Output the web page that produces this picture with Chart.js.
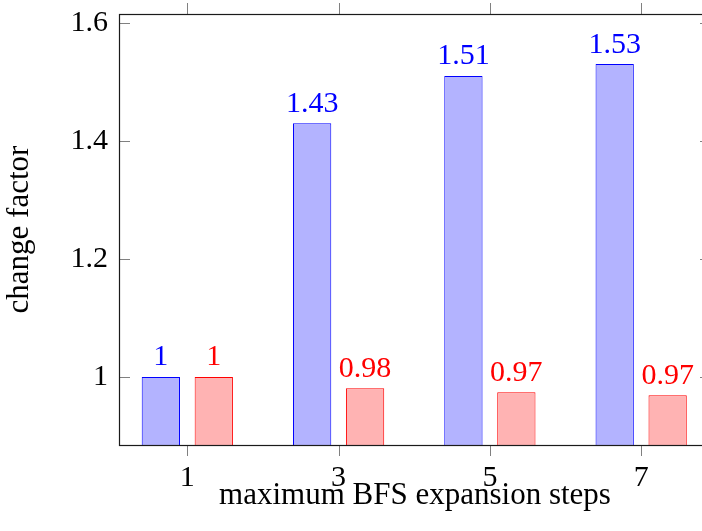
<!DOCTYPE html>
<html>
<head>
<meta charset="utf-8">
<script src="https://cdn.jsdelivr.net/npm/chart.js@4/dist/chart.umd.min.js"></script>
<style>
  html, body { margin: 0; padding: 0; background: #fff; overflow: hidden; width: 702px; height: 531px; }
  #c { display: block; }
</style>
</head>
<body>
<canvas id="c" width="720" height="531"></canvas>
<script>
// ---- data ----
const steps = [1, 3, 5, 7];
const series1Values = [1, 1.43, 1.51, 1.53];      // blue bars
const series2Values = [1, 0.981, 0.974, 0.969];   // red bars
const xTickValues = [1, 3, 5, 7];
const yTickValues = [1, 1.2, 1.4, 1.6];
const xTitle = 'maximum BFS expansion steps';
const yTitle = 'change factor';

const FONT = '"Liberation Serif", "Times New Roman", serif';

function pts(vals) { return steps.map((s, i) => ({ x: s, y: vals[i] })); }
function fmt(v) { return String(Number(v.toFixed(2))); }

const frameAndTicks = {
  id: 'frameAndTicks',
  afterDraw(chart) {
    const { ctx, chartArea: a, scales } = chart;
    const xs = scales.x, ys = scales.y;
    ctx.save();
    ctx.strokeStyle = '#808080';
    ctx.lineWidth = 1;
    ctx.beginPath();
    yTickValues.forEach(v => {
      const y = Math.round(ys.getPixelForValue(v)) + 0.5;
      ctx.moveTo(a.left, y); ctx.lineTo(a.left + 10, y);
      ctx.moveTo(a.right - 10, y); ctx.lineTo(a.right, y);
    });
    xTickValues.forEach(v => {
      const x = Math.round(xs.getPixelForValue(v)) + 0.5;
      ctx.moveTo(x, a.bottom); ctx.lineTo(x, a.bottom + 11);
      ctx.moveTo(x, a.top - 11); ctx.lineTo(x, a.top);
    });
    ctx.stroke();
    ctx.strokeStyle = '#1a1a1a';
    ctx.lineWidth = 1.2;
    ctx.strokeRect(a.left - 0.5, a.top + 0.5, a.right - a.left, a.bottom - a.top);
    ctx.restore();
  }
};

const valueLabels = {
  id: 'valueLabels',
  afterDatasetsDraw(chart) {
    const { ctx } = chart;
    ctx.save();
    ctx.font = '30px ' + FONT;
    ctx.textAlign = 'center';
    ctx.textBaseline = 'alphabetic';
    chart.data.datasets.forEach((ds, di) => {
      const meta = chart.getDatasetMeta(di);
      meta.data.forEach((el, i) => {
        ctx.fillStyle = ds.borderColor;
        ctx.fillText(fmt(ds.data[i].y), el.x, el.y - 11.5);
      });
    });
    ctx.restore();
  }
};

new Chart(document.getElementById('c'), {
  type: 'bar',
  data: {
    datasets: [
      {
        label: 'series 1',
        data: pts(series1Values),
        backgroundColor: 'rgb(179,179,255)',
        borderColor: 'rgb(0,0,255)',
        borderWidth: 1,
        categoryPercentage: 0.70,
        barPercentage: 0.723
      },
      {
        label: 'series 2',
        data: pts(series2Values),
        backgroundColor: 'rgb(255,179,179)',
        borderColor: 'rgb(255,0,0)',
        borderWidth: 1,
        categoryPercentage: 0.70,
        barPercentage: 0.723
      }
    ]
  },
  options: {
    responsive: false,
    animation: false,
    devicePixelRatio: 1,
    layout: { padding: { left: 0, top: 14, right: 10, bottom: 0 } },
    plugins: { legend: { display: false }, tooltip: { enabled: false } },
    scales: {
      x: {
        type: 'linear',
        offset: false,
        min: 0.11,
        max: 7.91,
        grid: { display: false, drawTicks: false, offset: false },
        border: { display: false },
        afterBuildTicks: s => { s.ticks = xTickValues.map(v => ({ value: v })); },
        ticks: {
          autoSkip: false,
          maxRotation: 0,
          padding: 15,
          color: '#000',
          font: { family: FONT, size: 30 },
          callback: v => String(v)
        },
        title: {
          display: true,
          text: xTitle,
          color: '#000',
          font: { family: FONT, size: 31 },
          padding: { top: 0, bottom: 17 }
        },
        afterFit: s => { s.height = 86; s.paddingLeft = 0; s.paddingRight = 0; }
      },
      y: {
        type: 'linear',
        min: 0.8848,
        max: 1.6149,
        grid: { display: false, drawTicks: false },
        border: { display: false },
        afterBuildTicks: s => { s.ticks = yTickValues.map(v => ({ value: v })); },
        ticks: {
          padding: 12,
          color: '#000',
          font: { family: FONT, size: 30 },
          callback: v => String(Math.round(v * 10) / 10)
        },
        title: {
          display: true,
          text: yTitle,
          color: '#000',
          font: { family: FONT, size: 31 },
          padding: { top: 1, bottom: 0 }
        },
        afterFit: s => { s.width = 120; s.paddingTop = 0; s.paddingBottom = 0; }
      }
    }
  },
  plugins: [valueLabels, frameAndTicks]
});
</script>
</body>
</html>
